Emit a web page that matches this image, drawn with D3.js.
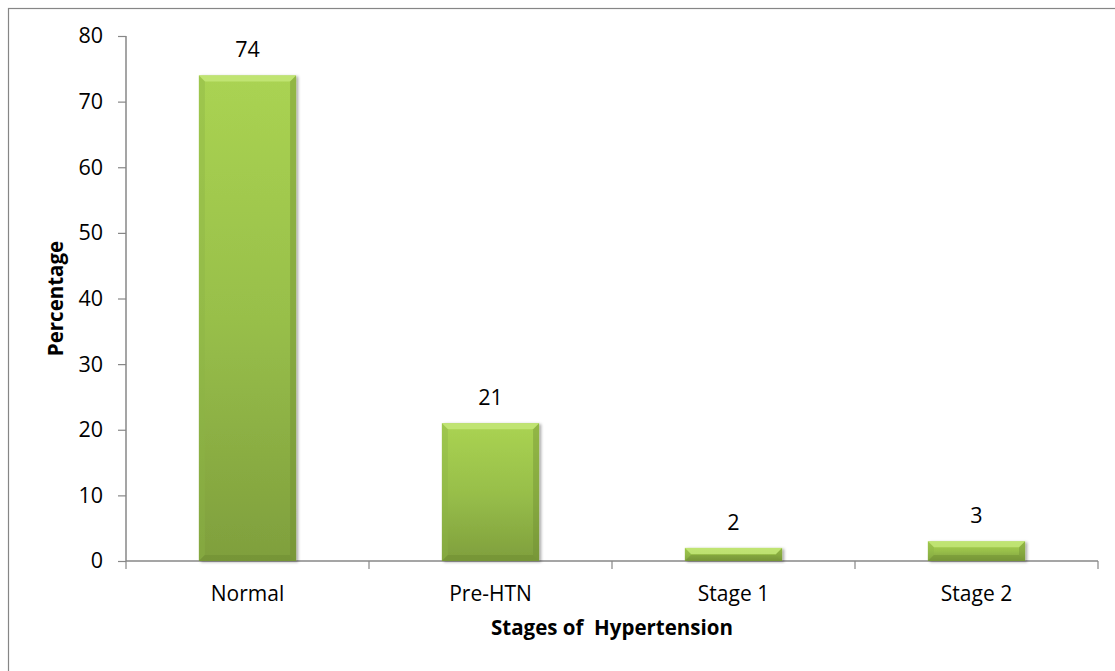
<!DOCTYPE html>
<html><head><meta charset="utf-8">
<script src="https://cdn.jsdelivr.net/npm/d3@7"></script>
<style>
html,body{margin:0;padding:0;background:#fff;}
svg{display:block;font-family:"Open Sans",sans-serif;}
</style></head>
<body><svg id="c" width="1115" height="671"></svg>
<script>
const categories = ["Normal", "Pre-HTN", "Stage 1", "Stage 2"];
const values = [74, 21, 2, 3];
const yTicks = [0, 10, 20, 30, 40, 50, 60, 70, 80];
const xTitle = "Stages of\u00a0 Hypertension";
const yTitle = "Percentage";

(function () {
const svg = d3.select("#c");
const mLeft = 126, mRight = 1098, mTop = 36, mBottom = 561;

// chart border (only top/left visible)
svg.append("rect").attr("x", 8.5).attr("y", 8.5).attr("width", 1200).attr("height", 800)
  .attr("fill", "none").attr("stroke", "#868686").attr("stroke-width", 1.2);

const x = d3.scaleBand().domain(categories).range([mLeft, mRight]).paddingInner(0.6).paddingOuter(0.3);
const y = d3.scaleLinear().domain([0, 80]).range([mBottom, mTop]);

const defs = svg.append("defs");
const g1 = defs.append("linearGradient").attr("id", "bodyGrad").attr("x1", 0).attr("y1", 0).attr("x2", 0).attr("y2", 1);
g1.append("stop").attr("offset", "0%").attr("stop-color", "#aad352");
g1.append("stop").attr("offset", "50%").attr("stop-color", "#98bf4a");
g1.append("stop").attr("offset", "100%").attr("stop-color", "#7f9f3d");
const f = defs.append("filter").attr("id", "shadow").attr("x", "-20%").attr("y", "-20%").attr("width", "140%").attr("height", "140%");
f.append("feDropShadow").attr("dx", 2).attr("dy", 1).attr("stdDeviation", 1.5).attr("flood-color", "#000").attr("flood-opacity", 0.35);

// y axis
const yAxis = d3.axisLeft(y).tickValues(yTicks).tickSize(8).tickPadding(15);
const ya = svg.append("g").attr("transform", `translate(${mLeft},0)`).call(yAxis);
ya.select(".domain").attr("stroke", "#878787").attr("stroke-width", 1.5).attr("d", `M-0,${mTop}V${mBottom}`);
ya.selectAll(".tick line").attr("stroke", "#878787").attr("stroke-width", 1.2);
ya.selectAll(".tick text").attr("font-size", 21.5).attr("font-family", "Open Sans").attr("fill", "#000");

// x axis
const xa = svg.append("g").attr("transform", `translate(0,${mBottom})`);
xa.append("line").attr("x1", mLeft).attr("x2", mRight).attr("y1", 0).attr("y2", 0).attr("stroke", "#878787").attr("stroke-width", 1.5);
const bounds = categories.map(c => x(c) - x.step() * x.paddingInner() / 2);
bounds.push(mRight);
xa.selectAll("line.tk").data(bounds).enter().append("line").attr("class", "tk")
  .attr("x1", d => d).attr("x2", d => d).attr("y1", 0).attr("y2", 8).attr("stroke", "#878787").attr("stroke-width", 1.2);
xa.selectAll("text").data(categories).enter().append("text")
  .attr("x", d => x(d) + x.bandwidth() / 2).attr("y", 40).attr("text-anchor", "middle")
  .attr("font-size", 21).attr("fill", "#000").text(d => d);

// bars
const data = categories.map((c, i) => ({c, v: values[i]}));
const bars = svg.append("g").selectAll("g").data(data).enter().append("g");
bars.append("rect").attr("x", d => x(d.c)).attr("y", d => y(d.v)).attr("width", x.bandwidth())
  .attr("height", d => y(0) - y(d.v)).attr("fill", "url(#bodyGrad)").attr("filter", "url(#shadow)");
const bev = 6;
bars.append("path").attr("fill", "#c6e87a").attr("opacity", 0.8)
  .attr("d", d => { const x0 = x(d.c), x1 = x0 + x.bandwidth(), y0 = y(d.v), h = y(0) - y(d.v), b = Math.min(bev, h / 2);
    return `M${x0},${y0}H${x1}L${x1 - b},${y0 + b}H${x0 + b}Z`; });
bars.append("path").attr("fill", "#6f8c33").attr("opacity", 0.4)
  .attr("d", d => { const x0 = x(d.c), x1 = x0 + x.bandwidth(), y0 = y(d.v), y1 = y(0), h = y1 - y0, b = Math.min(bev, h / 2);
    return `M${x1},${y0}L${x1},${y1}L${x1 - b},${y1 - b}L${x1 - b},${y0 + b}Z`; });
bars.append("path").attr("fill", "#8db345").attr("opacity", 0.4)
  .attr("d", d => { const x0 = x(d.c), x1 = x0 + x.bandwidth(), y0 = y(d.v), y1 = y(0), h = y1 - y0, b = Math.min(bev, h / 2);
    return `M${x0},${y0}L${x0 + b},${y0 + b}L${x0 + b},${y1 - b}L${x0},${y1}Z`; });
bars.append("path").attr("fill", "#6a8830").attr("opacity", 0.4)
  .attr("d", d => { const x0 = x(d.c), x1 = x0 + x.bandwidth(), y0 = y(d.v), y1 = y(0), h = y1 - y0, b = Math.min(bev, h / 2);
    return `M${x0},${y1}L${x0 + b},${y1 - b}H${x1 - b}L${x1},${y1}Z`; });

// value labels
bars.append("text").attr("x", d => x(d.c) + x.bandwidth() / 2).attr("y", d => y(d.v) - 18)
  .attr("text-anchor", "middle").attr("font-size", 21.5).attr("fill", "#000").text(d => d.v);

// titles
svg.append("text").attr("x", (mLeft + mRight) / 2).attr("y", 635).attr("text-anchor", "middle")
  .attr("font-size", 20.5).attr("font-weight", "bold").attr("fill", "#000").text(xTitle);
svg.append("text").attr("transform", `translate(63,${(mTop + mBottom) / 2}) rotate(-90)`).attr("text-anchor", "middle")
  .attr("font-size", 20.5).attr("font-weight", "bold").attr("fill", "#000").text(yTitle);
})();
</script></body></html>
